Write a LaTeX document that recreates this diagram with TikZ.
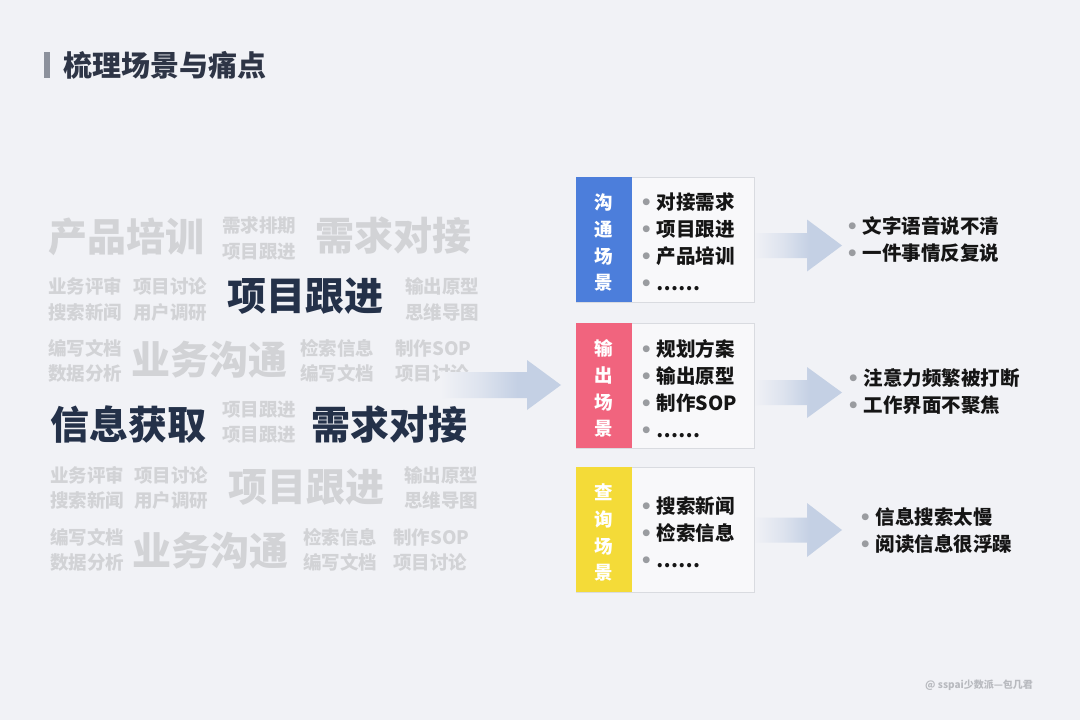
\documentclass[tikz,border=0pt]{standalone}
\usepackage{fontspec}
\setmainfont{Noto Sans CJK SC}
\newfontfamily\dejavu{DejaVu Sans}
\definecolor{bgc}{HTML}{F1F2F6}
\definecolor{wgray}{HTML}{D2D3D6}
\definecolor{wdark}{HTML}{243149}
\definecolor{titlec}{HTML}{2E3546}
\definecolor{barc}{HTML}{8C919C}
\definecolor{sblue}{HTML}{4C7EDB}
\definecolor{spink}{HTML}{F1647E}
\definecolor{syellow}{HTML}{F4DB38}
\definecolor{panelc}{HTML}{F8F8FA}
\definecolor{panelb}{HTML}{D9DBE0}
\definecolor{itemc}{HTML}{151515}
\definecolor{bulgray}{HTML}{9A9CA0}
\definecolor{arrc}{HTML}{C4D0E4}
\definecolor{markc}{HTML}{B8BABF}
\colorlet{arrmid}{arrc!45!bgc}
\pgfdeclarehorizontalshading{arrowfade}{100bp}{color(0bp)=(bgc); color(25bp)=(bgc); color(42bp)=(arrmid); color(57bp)=(arrc); color(100bp)=(arrc)}
\newcommand\bl{{\dejavu\color{bulgray}•}\hspace{4pt}}
\newcommand\fatarrow[6]{%
  \shade[shading=arrowfade] (#1,#4-#5) -- (#2,#4-#5) -- (#2,#4-#6) -- (#3,#4)
    -- (#2,#4+#6) -- (#2,#4+#5) -- (#1,#4+#5) -- cycle;}
\begin{document}
\begin{tikzpicture}[x=1pt,y=-1pt,
  big/.style={anchor=west, inner sep=0pt, font=\bfseries\fontsize{39}{43}\selectfont},
  bigg/.style={big, text=wgray},
  bigd/.style={big, text=wdark},
  small/.style={anchor=west, inner sep=0pt, align=left, text=wgray,
    font=\bfseries\fontsize{18.5}{25.5}\selectfont},
  panel/.style={draw=panelb, fill=panelc, line width=0.8pt, anchor=north west,
    minimum width=178pt, minimum height=125pt, inner sep=0pt},
  strip/.style={anchor=north west, minimum width=56pt, minimum height=125pt,
    inner sep=0pt},
  slabel/.style={inner sep=0pt, text=white, align=center, yshift=-3pt,
    font=\bfseries\fontsize{18.5}{26.7}\selectfont},
  items/.style={anchor=west, inner sep=0pt, align=left, text=itemc,
    font=\bfseries\fontsize{19.5}{27}\selectfont},
  pain/.style={anchor=west, inner sep=0pt, align=left, text=itemc,
    font=\bfseries\fontsize{19.5}{27}\selectfont}]
\fill[bgc] (0,0) rectangle (1080,720);
\useasboundingbox (0,0) rectangle (1080,720);

% title
\fill[barc] (44,52) rectangle (50,78);
\node[anchor=west, inner sep=0pt, text=titlec, font=\bfseries\fontsize{29}{32}\selectfont] (title) at (63,65) {梳理场景与痛点};

% word cloud
\node[bigg] (w1) at (48,237) {产品培训};
\node[small] (w2) at (222,238.5) {需求排期\\项目跟进};
\node[bigg] (w3) at (315,236) {需求对接};
\node[small] (w4) at (48,299.5) {业务评审\\搜索新闻};
\node[small] (w5) at (133,299.5) {项目讨论\\用户调研};
\node[bigd] (w6) at (227,296) {项目跟进};
\node[small] (w7) at (405,299.5) {输出原型\\思维导图};
\node[small] (w8) at (48,361) {编写文档\\数据分析};
\node[bigg] (w9) at (131,360) {业务沟通};
\node[small] (w10) at (300,361) {检索信息\\编写文档};
\node[small] (w11) at (395,361) {制作SOP\\项目讨论};
\node[bigd] (w12) at (50,425) {信息获取};
\node[small] (w13) at (222,422) {项目跟进\\项目跟进};
\node[bigd] (w14) at (311,425) {需求对接};
\node[small] (w15) at (50,488) {业务评审\\搜索新闻};
\node[small] (w16) at (134,488) {项目讨论\\用户调研};
\node[bigg] (w17) at (228,487) {项目跟进};
\node[small] (w18) at (404,488) {输出原型\\思维导图};
\node[small] (w19) at (50,550) {编写文档\\数据分析};
\node[bigg] (w20) at (132,551) {业务沟通};
\node[small] (w21) at (303,550) {检索信息\\编写文档};
\node[small] (w22) at (393,550) {制作SOP\\项目讨论};

% arrows
\fatarrow{440}{527}{561}{385}{13}{25}
\fatarrow{753}{807}{842}{245.5}{12.5}{26}
\fatarrow{753}{807}{842}{392.5}{12.5}{25.5}
\fatarrow{753}{807}{842}{530}{12.5}{27}

% panels
\node[panel] (p1) at (576,177) {};
\node[strip, fill=sblue] (s1) at (576,177) {};
\node[slabel] (l1) at (s1.center) {沟\\通\\场\\景};
\node[items] (i1) at (640,242) {\bl 对接需求\\\bl 项目跟进\\\bl 产品培训\\\bl ……};

\node[panel] (p2) at (576,323) {};
\node[strip, fill=spink] (s2) at (576,323) {};
\node[slabel] (l2) at (s2.center) {输\\出\\场\\景};
\node[items] (i2) at (640,389) {\bl 规划方案\\\bl 输出原型\\\bl 制作SOP\\\bl ……};

\node[panel] (p3) at (576,467) {};
\node[strip, fill=syellow] (s3) at (576,467) {};
\node[slabel] (l3) at (s3.center) {查\\询\\场\\景};
\node[items] (i3) at (640,532) {\bl 搜索新闻\\\bl 检索信息\\\bl ……};

% pain points
\node[pain] (q1) at (846,239.5) {\bl 文字语音说不清\\\bl 一件事情反复说};
\node[pain] (q2) at (847,391.5) {\bl 注意力频繁被打断\\\bl 工作界面不聚焦};
\node[pain] (q3) at (859,530.5) {\bl 信息搜索太慢\\\bl 阅读信息很浮躁};

% watermark
\node[anchor=west, inner sep=0pt, text=markc, font=\bfseries\fontsize{10}{12}\selectfont] (mark) at (925,685) {@ sspai少数派—包几君};
\end{tikzpicture}
\end{document}
